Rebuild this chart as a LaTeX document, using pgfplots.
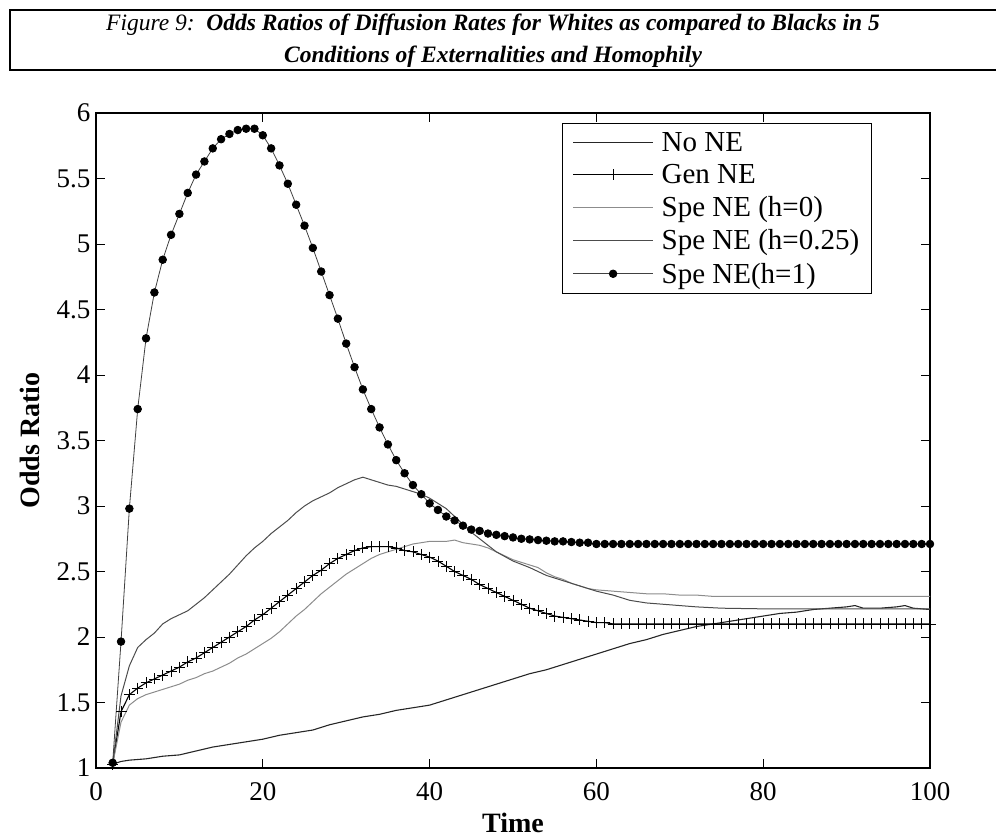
\documentclass[border=0pt]{standalone}
\usepackage{fontspec}
\setmainfont{Liberation Serif}
\usepackage{pgfplots}
\pgfplotsset{compat=1.18}
\begin{document}
\begin{tikzpicture}[x=1pt,y=1pt]
\useasboundingbox (0,0) rectangle (996,-839);
\begin{scope}
\clip (0,0) rectangle (996,-839);
\begin{scope}
\clip (10,-10) rectangle (1000,-70);
\node[align=center, font=\fontsize{23.5}{32}\selectfont\itshape] at (493,-41) {Figure 9:\ \ \textbf{Odds Ratios of Diffusion Rates for Whites as compared to Blacks in 5}\\ \textbf{Conditions of Externalities and Homophily}};
\end{scope}
\draw[line width=1.2pt] (10,-10) rectangle (1000,-70);
\begin{axis}[
  at={(96pt,-768pt)}, anchor=south west,
  width=834pt, height=655pt, scale only axis,
  xmin=0, xmax=100, ymin=1, ymax=6,
  xtick={0,20,40,60,80,100},
  ytick={1,1.5,2,2.5,3,3.5,4,4.5,5,5.5,6},
  yticklabels={1,1.5,2,2.5,3,3.5,4,4.5,5,5.5,6},
  /pgf/number format/assume math mode=true,
  tick align=inside, major tick length=9pt,
  tick style={line width=0.8pt, black},
  axis line style={line width=1.2pt},
  tick label style={font=\fontsize{27}{32}\selectfont},
  xticklabel style={yshift=-11pt},
  yticklabel style={xshift=-2pt},
  xlabel={Time}, ylabel={Odds Ratio},
  every axis x label/.style={at={(axis description cs:0.5,-0.084)}, anchor=center, font=\fontsize{28}{34}\selectfont\bfseries},
  every axis y label/.style={at={(axis description cs:-0.079,0.5)}, rotate=90, anchor=center, font=\fontsize{28}{34}\selectfont\bfseries},
  legend image code/.code={\draw[mark repeat=2,mark phase=2,#1] plot coordinates {(0pt,0pt) (40pt,0pt) (80pt,0pt)};},
  legend style={at={(rel axis cs:0.5588,0.9847)}, anchor=north west, draw=black, line width=1pt,
    font=\fontsize{29}{32}\selectfont, cells={anchor=west}, row sep=7.5pt, column sep=6pt,
    inner xsep=10pt, inner ysep=7pt},
]
% No NE
\addplot[color=black!85, line width=1.1pt] coordinates {
(2,1.03)(3,1.05)(4,1.06)(6,1.07)(8,1.09)(10,1.10)(12,1.13)(14,1.16)(16,1.18)(18,1.20)(20,1.22)
(22,1.25)(24,1.27)(26,1.29)(28,1.33)(30,1.36)(32,1.39)(34,1.41)(36,1.44)(38,1.46)(40,1.48)
(42,1.52)(44,1.56)(46,1.60)(48,1.64)(50,1.68)(52,1.72)(54,1.75)(56,1.79)(58,1.83)(60,1.87)
(62,1.91)(64,1.95)(66,1.98)(68,2.02)(70,2.05)(72,2.08)(74,2.10)(76,2.12)(78,2.14)(80,2.16)
(82,2.18)(84,2.19)(86,2.21)(88,2.22)(90,2.23)(91,2.24)(92,2.22)(94,2.22)(96,2.23)(97,2.24)(98,2.22)(100,2.21)};
\addlegendentry{No NE}
% Gen NE
\addplot[color=black, line width=1.1pt, mark=+, mark size=5.5pt, mark options={line width=0.8pt}] coordinates {
(2,1.03)(3,1.43)(4,1.56)(5,1.61)(6,1.65)(7,1.68)(8,1.71)(9,1.74)(10,1.77)(11,1.81)(12,1.84)(13,1.88)
(14,1.92)(15,1.96)(16,2.00)(17,2.04)(18,2.08)(19,2.13)(20,2.17)(21,2.22)(22,2.27)(23,2.32)(24,2.37)
(25,2.42)(26,2.47)(27,2.51)(28,2.56)(29,2.60)(30,2.63)(31,2.66)(32,2.68)(33,2.69)(34,2.69)(35,2.69)
(36,2.68)(37,2.66)(38,2.65)(39,2.63)(40,2.61)(41,2.58)(42,2.54)(43,2.50)(44,2.47)(45,2.44)(46,2.40)
(47,2.37)(48,2.34)(49,2.31)(50,2.28)(51,2.25)(52,2.22)(53,2.20)(54,2.18)(55,2.16)(56,2.15)(57,2.14)
(58,2.13)(59,2.12)(60,2.11)(61,2.11)(62,2.10)(63,2.10)(64,2.10)(65,2.10)(66,2.10)(67,2.10)(68,2.10)
(69,2.10)(70,2.10)(71,2.10)(72,2.10)(73,2.10)(74,2.10)(75,2.10)(76,2.10)(77,2.10)(78,2.10)(79,2.10)
(80,2.10)(81,2.10)(82,2.10)(83,2.10)(84,2.10)(85,2.10)(86,2.10)(87,2.10)(88,2.10)(89,2.10)(90,2.10)
(91,2.10)(92,2.10)(93,2.10)(94,2.10)(95,2.10)(96,2.10)(97,2.10)(98,2.10)(99,2.10)(100,2.10)};
\addlegendentry{Gen NE}
% Spe NE h=0
\addplot[color=black!45, line width=1pt] coordinates {
(2,1.03)(3,1.35)(4,1.48)(5,1.53)(6,1.56)(7,1.58)(8,1.60)(9,1.62)(10,1.64)(11,1.67)(12,1.69)(13,1.72)
(14,1.74)(15,1.77)(16,1.80)(17,1.84)(18,1.87)(19,1.91)(20,1.95)(21,1.99)(22,2.04)(23,2.10)(24,2.16)
(25,2.21)(26,2.27)(27,2.33)(28,2.38)(29,2.43)(30,2.48)(31,2.52)(32,2.56)(33,2.60)(34,2.63)(35,2.65)
(36,2.67)(37,2.69)(38,2.71)(39,2.72)(40,2.73)(41,2.73)(42,2.73)(43,2.74)(44,2.72)(45,2.71)(46,2.70)
(47,2.68)(48,2.65)(49,2.62)(50,2.59)(51,2.57)(52,2.55)(53,2.53)(54,2.49)(55,2.46)(56,2.44)(57,2.41)
(58,2.39)(59,2.37)(60,2.36)(62,2.35)(64,2.34)(66,2.33)(68,2.33)(70,2.32)(72,2.32)(74,2.31)(100,2.31)};
\addlegendentry{Spe NE (h=0)}
% Spe NE h=0.25
\addplot[color=black!70, line width=1pt] coordinates {
(2,1.03)(3,1.55)(4,1.78)(5,1.92)(6,1.98)(7,2.03)(8,2.10)(9,2.14)(10,2.17)(11,2.20)(12,2.25)(13,2.30)
(14,2.36)(15,2.42)(16,2.48)(17,2.55)(18,2.62)(19,2.68)(20,2.73)(21,2.79)(22,2.84)(23,2.89)(24,2.95)
(25,3.00)(26,3.04)(27,3.07)(28,3.10)(29,3.14)(30,3.17)(31,3.20)(32,3.22)(33,3.20)(34,3.18)(35,3.16)
(36,3.15)(37,3.13)(38,3.11)(39,3.09)(40,3.06)(41,3.02)(42,2.98)(43,2.92)(44,2.86)(45,2.80)(46,2.75)
(47,2.70)(48,2.65)(50,2.58)(52,2.53)(54,2.47)(56,2.43)(58,2.39)(60,2.35)(62,2.32)(64,2.28)(66,2.26)
(68,2.25)(70,2.24)(72,2.23)(75,2.22)(80,2.215)(100,2.215)};
\addlegendentry{Spe NE (h=0.25)}
% Spe NE h=1
\addplot[color=black!75, line width=0.8pt, mark=*, mark size=3.8pt, mark options={fill=black, draw=black}] coordinates {
(2,1.04)(3,1.965)(4,2.98)(5,3.74)(6,4.28)(7,4.63)(8,4.88)(9,5.07)(10,5.23)(11,5.39)(12,5.53)(13,5.63)
(14,5.73)(15,5.80)(16,5.84)(17,5.87)(18,5.88)(19,5.88)(20,5.83)(21,5.73)(22,5.60)(23,5.46)(24,5.30)
(25,5.14)(26,4.97)(27,4.79)(28,4.61)(29,4.43)(30,4.24)(31,4.06)(32,3.89)(33,3.74)(34,3.60)(35,3.47)
(36,3.35)(37,3.25)(38,3.16)(39,3.09)(40,3.02)(41,2.97)(42,2.92)(43,2.89)(44,2.85)(45,2.82)(46,2.81)
(47,2.79)(48,2.78)(49,2.77)(50,2.76)(51,2.75)(52,2.745)(53,2.74)(54,2.735)(55,2.73)(56,2.73)(57,2.725)
(58,2.72)(59,2.72)(60,2.71)(61,2.71)(62,2.71)(63,2.71)(64,2.71)(65,2.71)(66,2.71)(67,2.71)(68,2.71)
(69,2.71)(70,2.71)(71,2.71)(72,2.71)(73,2.71)(74,2.71)(75,2.71)(76,2.71)(77,2.71)(78,2.71)(79,2.71)
(80,2.71)(81,2.71)(82,2.71)(83,2.71)(84,2.71)(85,2.71)(86,2.71)(87,2.71)(88,2.71)(89,2.71)(90,2.71)
(91,2.71)(92,2.71)(93,2.71)(94,2.71)(95,2.71)(96,2.71)(97,2.71)(98,2.71)(99,2.71)(100,2.71)};
\addlegendentry{Spe NE(h=1)}
\end{axis}
\end{scope}
\end{tikzpicture}
\end{document}
